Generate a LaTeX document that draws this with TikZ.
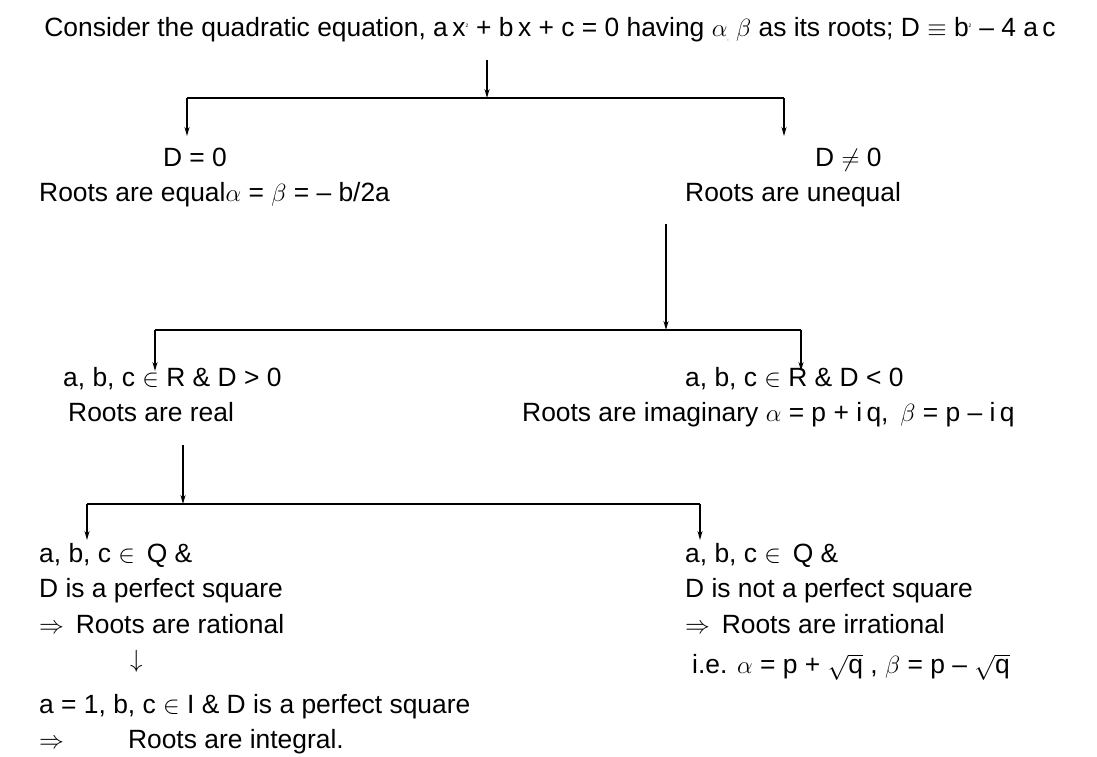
\documentclass[tikz,border=0pt]{standalone}
\usepackage{fontspec}
\setmainfont{Liberation Sans}
\usepackage{amssymb}
\usetikzlibrary{arrows.meta}
\begin{document}
\begin{tikzpicture}[x=1pt,y=-1pt,
  txt/.style={inner sep=0pt,anchor=base west,font=\fontsize{26.4}{29}\selectfont},
  arr/.style={-{Stealth[length=9pt,width=5pt]},line width=1.4pt},
  ln/.style={line width=1.4pt}]
\useasboundingbox (0,0) rectangle (1097,757);
\node[txt,anchor=base] (title) at (550,37) {Consider the quadratic equation, a\,x\textsuperscript{\tiny 2} + b\,x + c = 0 having $\alpha$\raisebox{-4pt}{\tiny,} $\beta$ as its roots; D $\equiv$ b\textsuperscript{\tiny 2} -- 4 a\,c};
\coordinate (t0) at (487,60);
\coordinate (t1) at (487,98);
\coordinate (tl) at (187,98);
\coordinate (tr) at (784,98);
\coordinate (tle) at (187,136);
\coordinate (tre) at (784,136);
\draw[arr] (t0) -- (t1);
\draw[ln] (tl) -- (tr);
\draw[arr] (tl) -- (tle);
\draw[arr] (tr) -- (tre);
\node[txt,anchor=base] (d0) at (195,166) {D = 0};
\node[txt] (eq) at (39,201) {Roots are equal$\alpha$ = $\beta$ = -- b/2a};
\node[txt] (dn) at (815,166) {D $\neq$ 0};
\node[txt] (uneq) at (685,201) {Roots are unequal};
\coordinate (m0) at (666,224);
\coordinate (m1) at (666,330);
\coordinate (ml) at (155,330);
\coordinate (mr) at (801,330);
\coordinate (mle) at (155,371);
\coordinate (mre) at (801,371);
\draw[arr] (m0) -- (m1);
\draw[ln] (ml) -- (mr);
\draw[arr] (ml) -- (mle);
\draw[arr] (mr) -- (mre);
\node[txt] (rp) at (63,386) {a, b, c $\in$ R \& D > 0};
\node[txt] (real) at (68,421) {Roots are real};
\node[txt] (rn) at (685,386) {a, b, c $\in$ R \& D < 0};
\node[txt] (imag) at (522,421) {Roots are imaginary $\alpha$ = p + i\,q,\, $\beta$ = p -- i\,q};
\coordinate (b0) at (183,445);
\coordinate (b1) at (183,504);
\coordinate (bl) at (87,504);
\coordinate (br) at (700,504);
\coordinate (ble) at (87,540);
\coordinate (bre) at (700,540);
\draw[arr] (b0) -- (b1);
\draw[ln] (bl) -- (br);
\draw[arr] (bl) -- (ble);
\draw[arr] (br) -- (bre);
\node[txt] (q1) at (39,562) {a, b, c $\in$\, Q \&};
\node[txt] (q2) at (39,597) {D is a perfect square};
\node[txt] (q3) at (39,633) {$\Rightarrow$\, Roots are rational};
\node[txt] (q4) at (130,667) {$\downarrow$};
\node[txt] (q5) at (39,713) {a = 1, b, c $\in$ $\mathrm{I}$ \& D is a perfect square};
\node[txt] (q6) at (39,748) {$\Rightarrow$\hspace{64pt}Roots are integral.};
\node[txt] (s1) at (685,562) {a, b, c $\in$\, Q \&};
\node[txt] (s2) at (685,597) {D is not a perfect square};
\node[txt] (s3) at (685,633) {$\Rightarrow$\, Roots are irrational};
\node[txt] (s4) at (692,673) {i.e. $\alpha$ = p + $\sqrt{\mathrm{q}}$ , $\beta$ = p -- $\sqrt{\mathrm{q}}$};
\end{tikzpicture}
\end{document}
